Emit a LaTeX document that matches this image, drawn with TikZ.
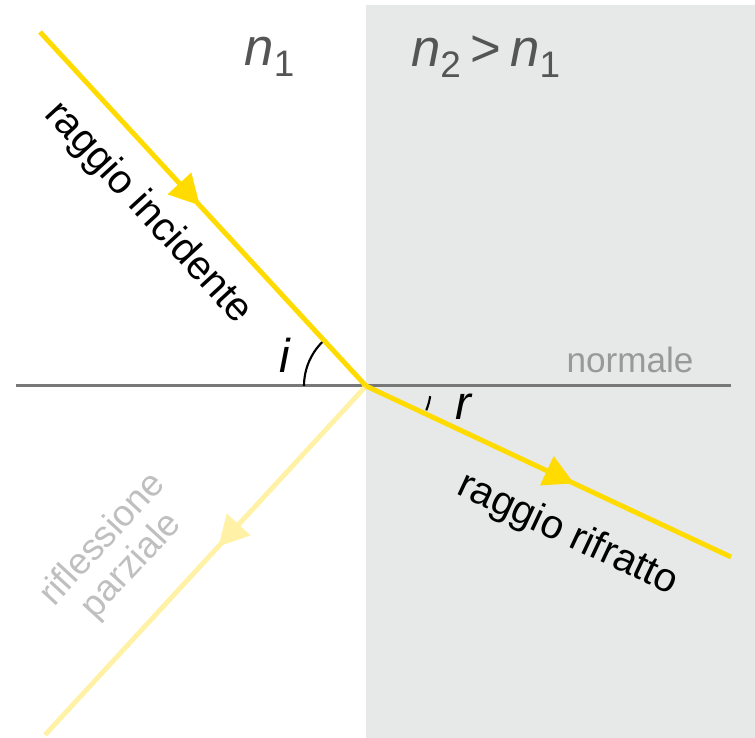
\documentclass[tikz,border=0pt]{standalone}
\usepackage{fontspec}
\setmainfont{Liberation Sans}
\usetikzlibrary{arrows.meta,decorations.markings}

\definecolor{raggio}{RGB}{255,219,0}
\definecolor{raggiochiaro}{RGB}{255,241,165}
\definecolor{mezzo}{RGB}{230,233,232}
\definecolor{indice}{RGB}{85,85,85}

\tikzset{
	freccia/.style={decoration={markings,mark=at position #1 with {\arrow{Triangle[length=0.6cm,width=0.62cm]}}},postaction={decorate}},
	luce/.style={line width=2.8pt,draw=raggio,color=raggio},
	etichetta/.style={font=\fontsize{23}{25}\selectfont},
}

\begin{document}
\begin{tikzpicture}
	\useasboundingbox (0,0) rectangle (15.1,14.76);
	\fill [mezzo] (7.32,0) rectangle (15.1,14.66);

	\coordinate (O) at (7.32,7.04);
	\coordinate (sorgente) at (0.8,14.12);
	\coordinate (uscita) at (14.62,3.62);
	\coordinate (riflesso) at (0.9,0.06);
	\coordinate (nsx) at (0.32,7.04);
	\coordinate (ndx) at (14.62,7.04);

	\draw [line width=1.7pt,color=black!53] (nsx) -- (ndx);
	\draw [luce,color=raggiochiaro,freccia=0.46] (O) -- (riflesso);
	\draw [luce,freccia=0.49] (sorgente) -- (O);
	\draw [luce,freccia=0.57] (O) -- (uscita);

	% angoli
	\draw [line width=1.2pt] ([shift={(180:1.24)}]O) arc (180:135:1.24);
	\draw [line width=1.2pt] ([shift={(-9:1.3)}]O) arc (-9:-22:1.3);
	\node (i) at (5.7,7.66) {\fontsize{27}{30}\selectfont\itshape i};
	\node (r) at (9.26,6.62) {\fontsize{27}{30}\selectfont\itshape r};

	% testi
	\begin{scope}[every node/.style={etichetta}]
	\node [rotate=-47.4] (inc) at (2.96,10.5) {raggio incidente};
	\node [rotate=-25.1] (rif) at (11.36,4.06) {raggio rifratto};
	\node [rotate=47.4,color=black!25,align=center,font=\fontsize{21}{22}\selectfont] (par) at (2.35,3.7) {riflessione\\parziale};
	\end{scope}
	\node [color=black!40,font=\fontsize{20}{22}\selectfont] (norm) at (12.6,7.56) {normale};
	\node [color=indice,font=\fontsize{30}{32}\selectfont\itshape] (n1) at (5.4,13.62) {n\textsubscript{\upshape 1}};
	\node [color=indice,font=\fontsize{30}{32}\selectfont\itshape] (n2) at (9.72,13.62) {n\textsubscript{\upshape 2}\,\upshape >\,\itshape n\textsubscript{\upshape 1}};
\end{tikzpicture}
\end{document}
